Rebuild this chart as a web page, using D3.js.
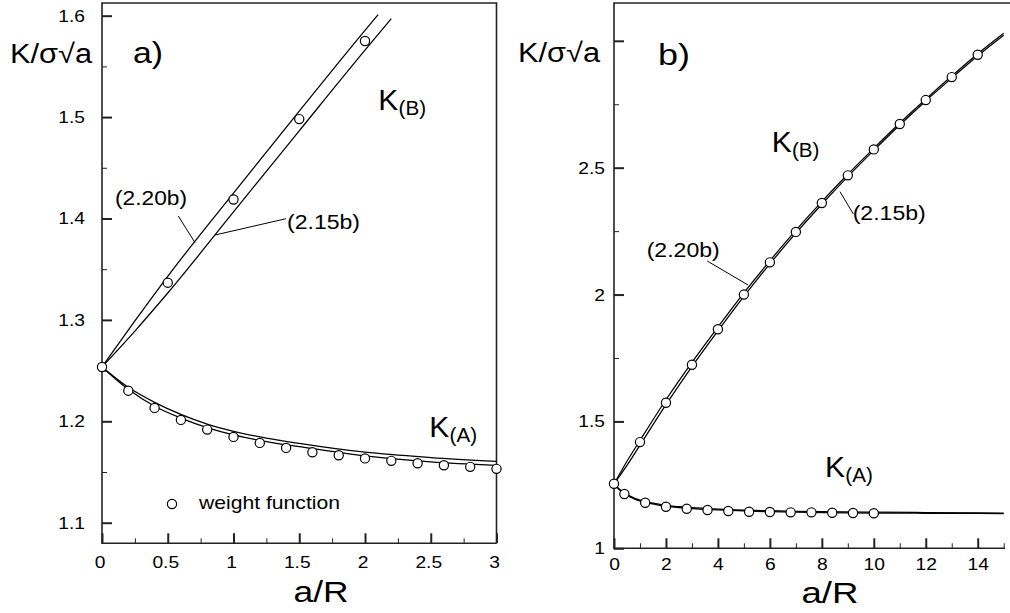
<!DOCTYPE html>
<html><head><meta charset="utf-8">
<script src="https://cdn.jsdelivr.net/npm/d3@7/dist/d3.min.js"></script>
<style>
body{margin:0;background:#fff;}
svg{display:block;font-family:"Liberation Sans",Arial,sans-serif;}
</style></head><body>
<svg id="chart" width="1010" height="613"></svg>
<script>
// ---------- data ----------
// Panel a) : 0 <= a/R <= 3
const aKAx  = [0,0.2,0.4,0.6,0.8,1.0,1.2,1.4,1.6,1.8,2.0,2.2,2.4,2.6,2.8,3.0];
const aKAwf = [1.2536,1.2302,1.2132,1.2014,1.1918,1.1846,1.1787,1.1738,1.1695,1.1665,1.1634,1.1610,1.1586,1.1567,1.1551,1.1531];
const aKBx  = [0.5,1,1.5,2];
const aKBwf = [1.3367,1.4187,1.4980,1.5750];
const aKBx220 = [0,0.25,0.5,1,1.5,2,2.1];
const aKB220  = [1.2536,1.2990,1.3430,1.4250,1.5058,1.5855,1.6010];
const aKBx215 = [0,0.25,0.5,1,1.5,2,2.2];
const aKB215  = [1.2536,1.2890,1.3265,1.4065,1.4865,1.5660,1.5970];
// K(A) curves (shared by both panels)
const kAx   = [0,0.2,0.4,0.6,0.8,1,1.25,1.5,2,2.5,3,4,5,6,7,8,10,12,15];
const kA220 = [1.2536,1.2335,1.2187,1.2068,1.1972,1.1901,1.1835,1.1782,1.1695,1.1643,1.1606,1.1545,1.1505,1.1480,1.1460,1.1445,1.1425,1.1410,1.1390];
const kA215 = [1.2536,1.2315,1.2148,1.2032,1.1938,1.1866,1.1800,1.1750,1.1658,1.1600,1.1565,1.1510,1.1470,1.1445,1.1425,1.1410,1.1390,1.1380,1.1370];
// Panel b) : 0 <= a/R <= 15
const bKBx   = [0,0.5,1,2,3,4,5,6,7,8,9,10,11,12,13,14,15];
const bKB220 = [1.2536,1.3430,1.4250,1.5855,1.7330,1.8720,2.0070,2.1330,2.2530,2.3660,2.4740,2.5760,2.6760,2.7700,2.8610,2.9490,3.0300];
const bKB215 = [1.2536,1.3265,1.4065,1.5660,1.7160,1.8570,1.9930,2.1210,2.2420,2.3560,2.4650,2.5680,2.6680,2.7630,2.8530,2.9410,3.0220];
const bKBwfx = [1,2,3,4,5,6,7,8,9,10,11,12,13,14];
const bKBwf  = [1.4185,1.5736,1.7232,1.8634,2.0000,2.1270,2.2470,2.3610,2.4697,2.5720,2.6720,2.7665,2.8570,2.9450];
const bKAwfx = [0,0.4,1.2,2,2.8,3.6,4.4,5.2,6,6.8,7.6,8.4,9.2,10];
const bKAwf  = [1.2545,1.2138,1.1795,1.1638,1.1560,1.1508,1.1469,1.1440,1.1430,1.1417,1.1417,1.1400,1.1390,1.1380];
// tick values
const aXMajor = [0,0.5,1,1.5,2,2.5,3];
const aXMinor = [0.25,0.75,1.25,1.75,2.25,2.75];
const aYMajor = [1.1,1.2,1.3,1.4,1.5,1.6];
const aYMinor = [1.15,1.25,1.35,1.45,1.55];
const bXMajor = [0,2,4,6,8,10,12,14];
const bXMinor = [1,3,5,7,9,11,13,15];
const bYMajor = [1,1.5,2,2.5,3];
const bYMinor = [1.25,1.75,2.25,2.75];

const zip = (xs, ys) => xs.map((x,i)=>({x, y: ys[i]}));

const svg = d3.select("#chart");
const STRETCH = 1.13;
function stretch(sel, f){
  sel.each(function(){
    const w = this.getComputedTextLength();
    if (w>0) d3.select(this).attr("textLength", w*f).attr("lengthAdjust","spacingAndGlyphs");
  });
}
function text(g, str, x, y, size, width, anchor){
  const t = g.append("text").attr("x",x).attr("y",y).attr("font-size",size)
    .attr("fill","#000").attr("text-anchor",anchor||"start").text(str);
  if (width) t.attr("textLength",width).attr("lengthAdjust","spacingAndGlyphs");
  return t;
}

function panel(cfg){
  const x = d3.scaleLinear().domain(cfg.xDomain).range(cfg.xRange);
  const y = d3.scaleLinear().domain(cfg.yDomain).range(cfg.yRange);
  const g = svg.append("g");
  const [x0,x1] = cfg.xRange, [yb,yt] = cfg.yRange;

  // frame
  const fr = g.append("g").attr("stroke","#222").attr("stroke-width",1.6).attr("fill","none");
  fr.append("line").attr("x1",x0).attr("x2",x0).attr("y1",yt).attr("y2",yb);
  fr.append("line").attr("x1",x0-0.8).attr("x2",cfg.bottomEnd).attr("y1",yb).attr("y2",yb);
  fr.append("line").attr("x1",x0-0.8).attr("x2",cfg.topEnd).attr("y1",yt).attr("y2",yt);
  if (cfg.rightFrame) fr.append("line").attr("x1",x1).attr("x2",x1).attr("y1",yt).attr("y2",yb);

  // axes (inward ticks)
  const yAx = g.append("g").attr("transform",`translate(${x0},0)`)
    .call(d3.axisLeft(y).tickValues(cfg.yMajor).tickSize(-10).tickPadding(cfg.yPad)
      .tickFormat(d => cfg.yHide.includes(d) ? "" : String(d)));
  g.append("g").attr("transform",`translate(${x0},0)`)
    .call(d3.axisLeft(y).tickValues(cfg.yMinor).tickSize(-5).tickFormat(""));
  const xAx = g.append("g").attr("transform",`translate(0,${yb})`)
    .call(d3.axisBottom(x).tickValues(cfg.xMajor).tickSize(-10).tickPadding(cfg.xPad).tickFormat(d=>String(d)));
  g.append("g").attr("transform",`translate(0,${yb})`)
    .call(d3.axisBottom(x).tickValues(cfg.xMinor).tickSize(-5).tickFormat(""));
  g.selectAll(".domain").remove();
  g.selectAll(".tick line").attr("stroke","#222");
  yAx.selectAll(".tick line").attr("stroke-width",2);
  xAx.selectAll(".tick line").attr("stroke-width",2);
  g.selectAll(".tick text").attr("font-size",17).attr("fill","#000")
    .attr("font-family",'"Liberation Sans",Arial,sans-serif');
  xAx.selectAll(".tick text").attr("dx",cfg.xLabelDx);
  stretch(g.selectAll(".tick text"), STRETCH);

  // curves
  const line = d3.line().x(d=>x(d.x)).y(d=>y(d.y)).curve(d3.curveMonotoneX);
  const cg = g.append("g").attr("fill","none").attr("stroke","#000").attr("stroke-width",1.25);
  cfg.curves.forEach(c => cg.append("path").attr("d", line(c)));

  // weight-function circles
  const pg = g.append("g").attr("fill","#fff").attr("stroke","#000").attr("stroke-width",1.2);
  cfg.points.forEach(p => pg.append("circle").attr("cx",x(p.x)).attr("cy",y(p.y)).attr("r",4.6));
  return {g,x,y};
}

// ---------- panel a ----------
const A = panel({
  xDomain:[0,3], xRange:[102,496.5],
  yDomain:[1.0797,1.6125], yRange:[543.3,3],
  bottomEnd:496.5, topEnd:497.3, rightFrame:true,
  xMajor:aXMajor, xMinor:aXMinor, yMajor:aYMajor, yMinor:aYMinor,
  yPad:17, xPad:12.5, xLabelDx:-2.5, yHide:[],
  curves:[
    zip(aKBx220,aKB220), zip(aKBx215,aKB215),
    zip(kAx,kA220).filter(d=>d.x<=3), zip(kAx,kA215).filter(d=>d.x<=3)
  ],
  points: zip(aKAx,aKAwf).concat(zip(aKBx,aKBwf))
});

// ---------- panel b ----------
const B = panel({
  xDomain:[0,15], xRange:[614,1003.7],
  yDomain:[1,3.149], yRange:[548.3,3],
  bottomEnd:1005, topEnd:1010, rightFrame:false,
  xMajor:bXMajor, xMinor:bXMinor, yMajor:bYMajor, yMinor:bYMinor,
  yPad:9, xPad:9.5, xLabelDx:0, yHide:[3],
  curves:[
    zip(bKBx,bKB220), zip(bKBx,bKB215),
    zip(kAx,kA220), zip(kAx,kA215)
  ],
  points: zip(bKAwfx,bKAwf).concat(zip(bKBwfx,bKBwf))
});

// ---------- annotations ----------
const ann = svg.append("g");
// axis titles and panel letters
text(ann, "K/\u03C3\u221Aa", 10, 63, 27, 82);
text(ann, "a)", 133, 63, 30, 30);
text(ann, "K/\u03C3\u221Aa", 518, 62, 27, 82);
text(ann, "b)", 658, 65, 30, 32);
text(ann, "a/R", 321, 602, 30, 55, "middle");
text(ann, "a/R", 830, 603, 30, 57, "middle");
// K labels with subscripts
function kLabel(x0, yb, sub){
  text(ann, "K", x0, yb, 30, 20);
  text(ann, sub, x0+20.3, yb+5, 20, 27.5);
}
kLabel(378.3, 110, "(B)");
kLabel(429.3, 436.7, "(A)");
kLabel(771.7, 151.7, "(B)");
kLabel(825, 476.7, "(A)");
// equation labels + leaders
text(ann, "(2.20b)", 115, 205, 19.5, 72);
text(ann, "(2.15b)", 287, 229, 19.5, 73);
text(ann, "(2.20b)", 646.7, 257, 19.5, 73);
text(ann, "(2.15b)", 852.7, 219.5, 19.5, 73);
const ld = ann.append("g").attr("stroke","#000").attr("stroke-width",1);
[[178.3,216,195,242.7],[286,218.7,215,235],[707.3,261,748,285],[840,191.7,853.3,214]]
  .forEach(s => ld.append("line").attr("x1",s[0]).attr("y1",s[1]).attr("x2",s[2]).attr("y2",s[3]));
// legend
ann.append("circle").attr("cx",172).attr("cy",504).attr("r",4.6)
  .attr("fill","#fff").attr("stroke","#000").attr("stroke-width",1.2);
text(ann, "weight function", 199, 509, 19, 141);
</script>
</body></html>
